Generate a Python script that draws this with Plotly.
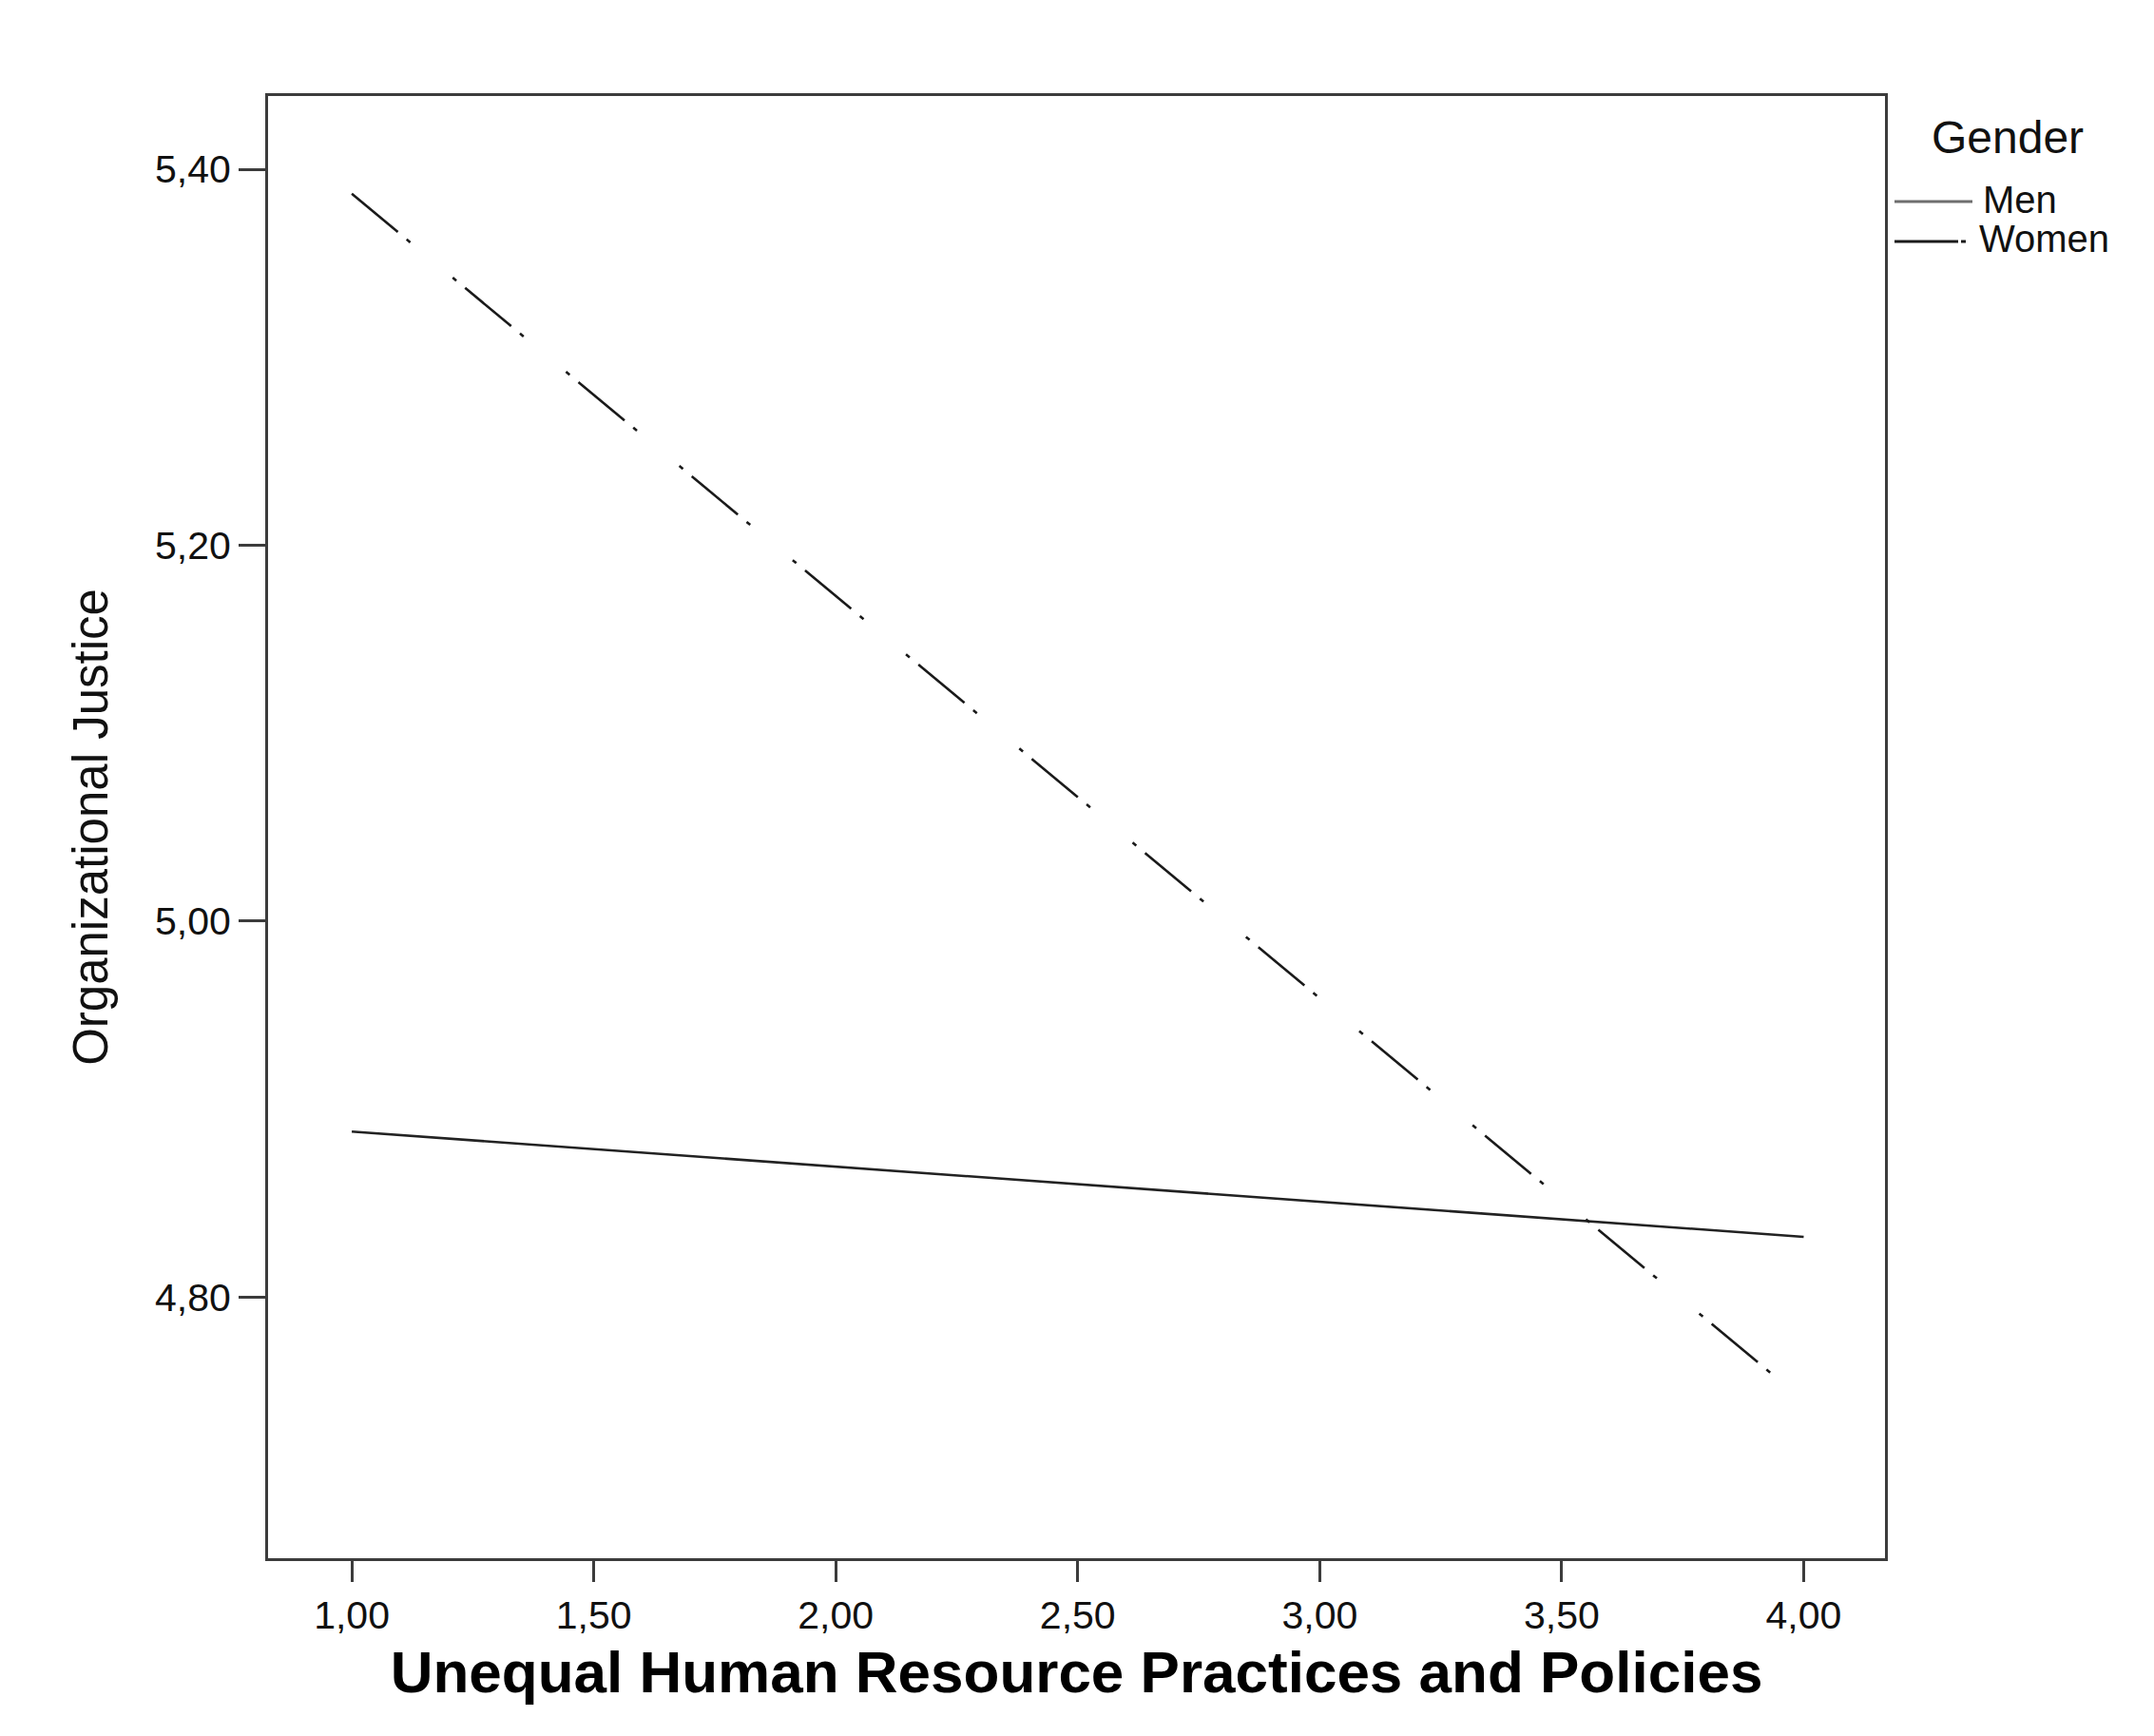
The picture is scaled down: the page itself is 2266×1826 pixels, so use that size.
import plotly.graph_objects as go

# predictor values (x) and predicted Organizational Justice per gender
hr_practices = [1.0, 4.0]
men_justice = [4.888, 4.832]
women_justice = [5.387, 4.745]

x_ticks = [1.0, 1.5, 2.0, 2.5, 3.0, 3.5, 4.0]
y_ticks = [4.8, 5.0, 5.2, 5.4]

genders = ["Men", "Women"]
gender_colors = ["#6e6e6e", "#1a1a1a"]

font_family = "Liberation Sans, Arial, sans-serif"

# plot area in page pixels (the page body adds an 8px offset)
PL, PR, PT, PB = 282, 1983, 101, 1639


def px(x):
    return (x - PL) / (PR - PL)


def py(y):
    return (PB - y) / (PB - PT)


women_dash = "63px,12px,5px,58px,5px,12px"

fig = go.Figure()

fig.add_trace(go.Scatter(
    x=hr_practices,
    y=men_justice,
    mode="lines",
    name=genders[0],
    line=dict(color="#222222", width=2.6),
))

fig.add_trace(go.Scatter(
    x=hr_practices,
    y=women_justice,
    mode="lines",
    name=genders[1],
    line=dict(color="#1a1a1a", width=2.6, dash=women_dash),
))

axis_style = dict(
    showline=True,
    mirror=True,
    linecolor="#3c3c3c",
    linewidth=3,
    ticks="outside",
    tickwidth=3,
    tickcolor="#3c3c3c",
    showgrid=False,
    zeroline=False,
    tickfont=dict(family=font_family, size=41, color="#111111"),
    tickformat=".2f",
)

# legend drawn by hand to match the compact SPSS layout
legend_annotations = [
    dict(text="Gender", x=px(2030), y=py(145), xref="paper", yref="paper",
         xanchor="left", yanchor="middle", showarrow=False,
         font=dict(family=font_family, size=48, color="#111111")),
    dict(text=genders[0], x=px(2084), y=py(210), xref="paper", yref="paper",
         xanchor="left", yanchor="middle", showarrow=False,
         font=dict(family=font_family, size=40, color="#111111")),
    dict(text=genders[1], x=px(2080), y=py(251), xref="paper", yref="paper",
         xanchor="left", yanchor="middle", showarrow=False,
         font=dict(family=font_family, size=40, color="#111111")),
]

legend_shapes = [
    dict(type="line", xref="paper", yref="paper",
         x0=px(1993), x1=px(2075), y0=py(212), y1=py(212),
         line=dict(color=gender_colors[0], width=3)),
    dict(type="line", xref="paper", yref="paper",
         x0=px(1993), x1=px(2075), y0=py(254), y1=py(254),
         line=dict(color=gender_colors[1], width=3, dash="67px,3px,5px,20px")),
]

fig.update_layout(
    width=2266,
    height=1826,
    paper_bgcolor="white",
    plot_bgcolor="white",
    separators=",.",
    showlegend=False,
    margin=dict(l=PL - 8, r=2266 - PR + 8, t=PT - 8, b=1826 - PB + 8),
    font=dict(family=font_family, color="#111111"),
    xaxis=dict(
        axis_style,
        ticklen=22,
        range=[0.827, 4.168],
        tickvals=x_ticks,
        title=dict(
            text="<b>Unequal Human Resource Practices and Policies</b>",
            font=dict(family=font_family, size=62, color="#000000"),
            standoff=16,
        ),
    ),
    yaxis=dict(
        axis_style,
        ticklen=28,
        range=[4.661, 5.439],
        tickvals=y_ticks,
        title=dict(
            text="Organizational Justice",
            font=dict(family=font_family, size=51, color="#111111"),
            standoff=34,
        ),
    ),
    annotations=legend_annotations,
    shapes=legend_shapes,
)

fig.write_html("out.html")
